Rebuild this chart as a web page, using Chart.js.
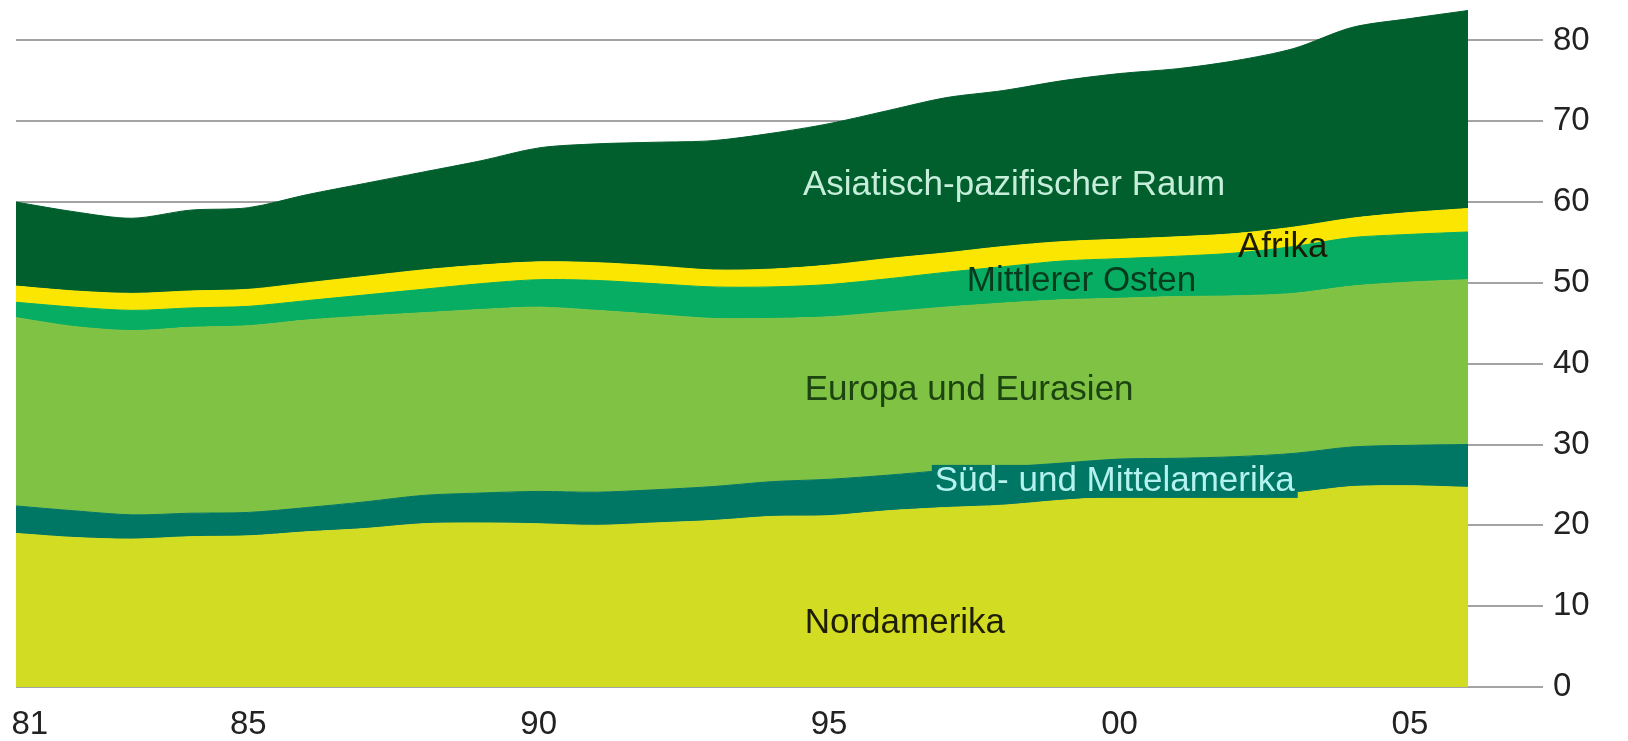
<!DOCTYPE html>
<html>
<head>
<meta charset="utf-8">
<script src="https://cdn.jsdelivr.net/npm/chart.js@4.4.1/dist/chart.umd.min.js"></script>
<style>
html,body{margin:0;padding:0;background:#ffffff;}
#wrap{width:1628px;height:741px;position:relative;}
</style>
</head>
<body>
<div id="wrap"><canvas id="c" width="1628" height="741"></canvas></div>
<script>
// ---- data ----
const years = [1981,1982,1983,1984,1985,1986,1987,1988,1989,1990,1991,1992,1993,1994,1995,1996,1997,1998,1999,2000,2001,2002,2003,2004,2005,2006];
const xTickYears = [1981,1985,1990,1995,2000,2005];
const xTickLabels = ['81','85','90','95','00','05'];
const yTickValues = [0,10,20,30,40,50,60,70,80];

const nordamerika   = [19.0,18.5,18.3,18.6,18.7,19.2,19.6,20.2,20.3,20.2,20.0,20.3,20.6,21.1,21.2,21.8,22.2,22.5,23.1,23.5,23.4,23.6,24.0,24.8,24.9,24.7];
const suedMittelam  = [3.4,3.3,3.0,2.9,2.9,3.0,3.3,3.5,3.7,4.0,4.1,4.1,4.2,4.3,4.5,4.4,4.6,4.7,4.6,4.7,4.9,4.9,4.9,4.9,5.0,5.3];
const europaEurasien= [23.3,22.8,22.8,23.0,23.1,23.2,23.0,22.6,22.7,22.8,22.5,21.7,20.8,20.2,20.1,20.2,20.2,20.3,20.2,19.9,20.0,19.9,19.8,19.9,20.2,20.4];
const mittlererOsten= [1.9,2.4,2.5,2.4,2.4,2.4,2.6,2.9,3.2,3.4,3.7,3.8,3.9,3.9,4.0,4.1,4.3,4.5,4.8,4.9,5.0,5.3,5.8,6.0,5.9,5.9];
const afrika        = [2.0,2.0,2.1,2.1,2.1,2.2,2.3,2.4,2.3,2.2,2.2,2.2,2.1,2.2,2.4,2.5,2.4,2.5,2.4,2.4,2.4,2.4,2.4,2.4,2.7,2.9];
const asienPazifik  = [10.4,9.8,9.3,10.0,10.1,10.9,11.5,12.1,12.9,14.1,14.7,15.3,16.0,16.8,17.5,18.3,19.2,19.3,19.9,20.5,20.8,21.4,22.1,23.6,24.0,24.5];

const seriesNames = ['Nordamerika','Süd- und Mittelamerika','Europa und Eurasien','Mittlerer Osten','Afrika','Asiatisch-pazifischer Raum'];

// ---- styling ----
const colors = ['#d2dc22','#007664','#80c244','#06ad62','#fae600','#005f2d'];
const labelTextColors = ['#1e1e08','#b4f2ee','#1b4410','#083a1e','#1a1a00','#c6eedb'];
const labelBoxColors  = [null,'#007664',null,null,null,null];
// label anchors (year position of left edge, value of vertical centre)
const labelYears  = [1994.58, 1996.82, 1994.58, 1997.37, 2002.04, 1994.55];
const labelValues = [7.9, 25.5, 36.7, 50.2, 54.4, 62.1];

const FONT = '"Liberation Sans", Arial, Helvetica, sans-serif';

const seriesData = [nordamerika, suedMittelam, europaEurasien, mittlererOsten, afrika, asienPazifik];

const datasets = seriesData.map((d, i) => ({
  label: seriesNames[i],
  data: d,
  backgroundColor: colors[i],
  borderColor: colors[i],
  borderWidth: 1,
  pointRadius: 0,
  tension: 0.3,
  fill: i === 0 ? 'origin' : '-1'
}));

const areaLabels = {
  id: 'areaLabels',
  afterDatasetsDraw(chart) {
    const ctx = chart.ctx;
    const xs = chart.scales.x, ys = chart.scales.y;
    ctx.save();
    ctx.font = '35px ' + FONT;
    ctx.textBaseline = 'middle';
    ctx.textAlign = 'left';
    for (let i = 0; i < seriesNames.length; i++) {
      const x = xs.getPixelForValue(labelYears[i] - years[0]);
      const y = ys.getPixelForValue(labelValues[i]);
      const w = ctx.measureText(seriesNames[i]).width;
      if (labelBoxColors[i]) {
        ctx.fillStyle = labelBoxColors[i];
        ctx.fillRect(x - 3, y - 16, w + 6, 33);
      }
      ctx.fillStyle = labelTextColors[i];
      ctx.fillText(seriesNames[i], x, y);
    }
    ctx.restore();
  }
};

new Chart(document.getElementById('c'), {
  type: 'line',
  data: { labels: years, datasets },
  options: {
    responsive: false,
    animation: false,
    layout: { padding: { left: 16, right: 0, top: 0, bottom: 0 } },
    plugins: { legend: { display: false }, tooltip: { enabled: false } },
    scales: {
      x: {
        type: 'category',
        offset: false,
        grid: { display: false, drawTicks: false },
        border: { display: false },
        ticks: {
          autoSkip: false,
          maxRotation: 0,
          padding: 18,
          color: '#222222',
          font: { family: FONT, size: 33 },
          callback: function(val, i) {
            const k = xTickYears.indexOf(years[i]);
            if (k < 0) return null;
            return k === 0 ? '   ' + xTickLabels[k] : xTickLabels[k];
          }
        },
        afterFit(s) { s.height = 54; s.paddingLeft = 0; s.paddingRight = 0; }
      },
      y: {
        position: 'right',
        stacked: true,
        min: 0,
        max: 85,
        afterBuildTicks(s) { s.ticks = yTickValues.map(v => ({ value: v })); },
        grid: { color: '#a3a3a3', lineWidth: 2, tickLength: 75, drawTicks: true },
        border: { display: false },
        ticks: {
          padding: 10,
          color: '#222222',
          font: { family: FONT, size: 33 },
          callback: v => String(v)
        },
        afterFit(s) { s.width = 160; s.paddingTop = 0; s.paddingBottom = 0; }
      }
    }
  },
  plugins: [areaLabels]
});
</script>
</body>
</html>
